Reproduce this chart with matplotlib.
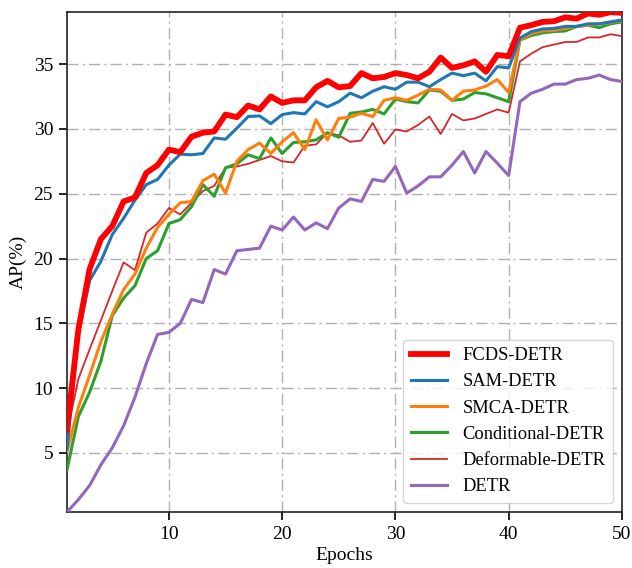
import matplotlib
matplotlib.use("Agg")
import matplotlib.pyplot as plt
import numpy as np

plt.rcParams['font.family'] = ['Liberation Serif', 'DejaVu Serif']

epochs = list(range(1, 51))

fcds = [6.8, 14.5, 19.2, 21.5, 22.5, 24.4, 24.7, 26.6, 27.2, 28.4,
        28.2, 29.4, 29.7, 29.8, 31.1, 30.9, 31.8, 31.5, 32.5, 32.0,
        32.2, 32.2, 33.2, 33.7, 33.2, 33.3, 34.3, 33.9, 34.0, 34.3,
        34.15, 33.9, 34.4, 35.5, 34.7, 34.9, 35.2, 34.4, 35.7, 35.6,
        37.8, 38.0, 38.25, 38.3, 38.6, 38.5, 38.9, 38.8, 39.0, 38.95]
sam = [5.3, 14.3, 18.3, 19.8, 21.85, 23.1, 24.5, 25.7, 26.1, 27.2,
       28.05, 28.0, 28.1, 29.3, 29.2, 30.05, 30.95, 31.0, 30.4, 31.1,
       31.25, 31.15, 32.1, 31.7, 32.1, 32.75, 32.4, 32.9, 33.25, 33.05,
       33.6, 33.6, 33.25, 33.8, 34.3, 34.1, 34.3, 33.7, 34.8, 34.7,
       37.0, 37.5, 37.7, 37.75, 37.9, 37.9, 38.1, 38.1, 38.25, 38.4]
smca = [5.1, 8.5, 11.0, 13.6, 15.7, 17.6, 18.8, 20.8, 22.4, 23.4,
        24.3, 24.4, 26.0, 26.5, 25.05, 27.5, 28.4, 28.9, 28.1, 29.0,
        29.7, 28.4, 30.7, 29.15, 30.8, 30.9, 31.2, 30.95, 32.2, 32.4,
        32.2, 32.6, 33.05, 33.0, 32.2, 32.9, 33.0, 33.3, 33.8, 32.8,
        36.85, 37.35, 37.55, 37.6, 37.75, 37.9, 38.0, 38.1, 38.2, 38.35]
cond = [3.7, 7.8, 9.7, 12.1, 15.6, 16.95, 17.9, 20.0, 20.6, 22.7,
        23.0, 24.0, 25.7, 24.8, 27.0, 27.3, 28.0, 27.7, 29.3, 28.1,
        28.95, 29.0, 29.15, 29.7, 29.35, 31.2, 31.3, 31.5, 31.15, 32.3,
        32.1, 32.0, 33.0, 32.9, 32.2, 32.3, 32.8, 32.7, 32.4, 32.1,
        36.85, 37.2, 37.4, 37.5, 37.55, 37.9, 38.0, 37.8, 38.1, 38.25]
deform = [6.5, 10.7, 13.0, 15.25, 17.5, 19.7, 19.1, 22.0, 22.7, 23.9,
          23.4, 24.3, 25.2, 25.6, 27.0, 27.1, 27.3, 27.6, 27.9, 27.5,
          27.4, 28.7, 28.8, 29.7, 29.5, 29.0, 29.1, 30.45, 28.85, 29.95,
          29.8, 30.3, 30.95, 29.6, 31.15, 30.65, 30.8, 31.15, 31.5, 31.25,
          35.2, 35.8, 36.3, 36.5, 36.7, 36.7, 37.05, 37.05, 37.3, 37.15]
detr = [0.45, 1.4, 2.5, 4.1, 5.4, 7.1, 9.3, 11.9, 14.15, 14.3,
        15.0, 16.85, 16.6, 19.15, 18.8, 20.6, 20.7, 20.8, 22.5, 22.2,
        23.2, 22.2, 22.75, 22.3, 23.9, 24.6, 24.4, 26.1, 25.95, 27.1,
        25.05, 25.6, 26.3, 26.3, 27.2, 28.25, 26.6, 28.25, 27.35, 26.4,
        32.1, 32.75, 33.05, 33.45, 33.45, 33.8, 33.9, 34.15, 33.8, 33.65]

labels = ['FCDS-DETR', 'SAM-DETR', 'SMCA-DETR', 'Conditional-DETR', 'Deformable-DETR', 'DETR']
series = [fcds, sam, smca, cond, deform, detr]
colors = ['#ff0000', '#1f77b4', '#ff7f0e', '#2ca02c', '#d62728', '#9467bd']
widths = [4.2, 2.2, 2.2, 2.2, 1.3, 2.2]
zorders = [8, 7, 6, 5, 4, 3]

fig = plt.figure(figsize=(6.32, 5.68), dpi=100)
ax = fig.add_axes([0.106, 0.0986, 0.878, 0.880])

for s, lab, c, w, z in zip(series, labels, colors, widths, zorders):
    ax.plot(epochs, s, color=c, lw=w, label=lab, zorder=z)

ax.set_xlim(1, 50)
ax.set_ylim(0.45, 39.0)
ax.set_xticks([10, 20, 30, 40, 50])
ax.set_yticks([5, 10, 15, 20, 25, 30, 35])
ax.tick_params(labelsize=14, direction='out', length=6, width=1.2, pad=4)
ax.grid(True, color='#b0b0b0', linestyle=(0, (8, 3, 1.5, 3)), linewidth=1.0, zorder=0)
ax.set_axisbelow(True)
for sp in ax.spines.values():
    sp.set_linewidth(1.2)
    sp.set_color('#222222')

ax.set_xlabel('Epochs', fontsize=14, labelpad=3)
ax.set_ylabel('AP(%)', fontsize=14, labelpad=5)

ax.legend(loc='lower right', fontsize=13.3, frameon=True, framealpha=0.8,
          edgecolor='#cccccc', handlelength=2.0)

fig.savefig('out.png', dpi=100)
